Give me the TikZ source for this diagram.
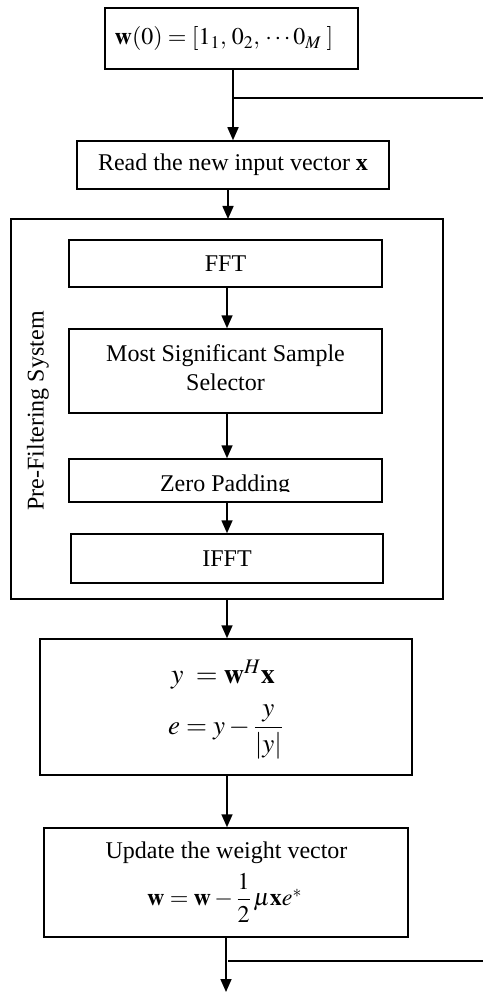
\documentclass[tikz,border=0pt]{standalone}
\usepackage{amsmath}
\usepackage{mathptmx}
\usepackage{fontspec}
\setmainfont{Liberation Serif}
\usetikzlibrary{arrows.meta}
\tikzset{
  base/.style={font=\fontsize{24}{28}\selectfont},
  box/.style={draw, line width=1.5pt, inner sep=0pt, base},
  txt/.style={inner sep=0pt, base},
  conn/.style={line width=1.6pt},
  arr/.style={conn, -{Triangle[length=13pt,width=11pt]}}
}
\begin{document}
\begin{tikzpicture}[x=1pt,y=-1pt]
\useasboundingbox (0,0) rectangle (483,992);
% boxes
\node[box, minimum width=253pt, minimum height=61pt] (init) at (231.5,38.5) {};
\node[txt] (inittext) at (224,38.5) {$\mathbf{w}(0)=[1_1,\,0_2,\,\cdots 0_M\;]$};
\node[box, minimum width=312pt, minimum height=48pt] (read) at (233,165) {Read the new input vector \textbf{x}};
\node[box, minimum width=432pt, minimum height=380pt] (outer) at (227,409) {};
\node[box, minimum width=313pt, minimum height=47pt] (fft) at (225.5,263.5) {FFT};
\node[box, minimum width=313pt, minimum height=84pt] (mss) at (225.5,371) {};
\node[txt, align=center] (msstext) at (225.5,368) {Most Significant Sample\\[1pt]Selector};
\node[box, minimum width=313pt, minimum height=43pt] (zp) at (225.5,480.5) {};
\begin{scope}
\clip (70,460) rectangle (381,491);
\node[txt, anchor=base] (zptext) at (225,491) {Zero Padding};
\end{scope}
\node[box, minimum width=312pt, minimum height=49pt] (ifft) at (227,558.5) {IFFT};
\node[txt, rotate=90] (label) at (38,411) {Pre-Filtering System};
\node[box, minimum width=372pt, minimum height=136pt] (calc) at (226,707) {};
\node[txt, font=\fontsize{28}{30}\selectfont] (eq1) at (223,675) {$y\;=\mathbf{w}^H\mathbf{x}$};
\node[txt, anchor=west, font=\fontsize{27}{30}\selectfont] (eq2) at (168,732) {$e=y-\dfrac{y}{|y|}$};
\node[box, minimum width=364pt, minimum height=109pt] (update) at (226,882.5) {};
\node[txt] (uptext) at (226.5,853) {Update the weight vector};
\node[txt] (eq3) at (224.5,898) {$\mathbf{w}=\mathbf{w}-\dfrac{1}{2}\,\mu\mathbf{x}e^{*}$};
% coordinates
\coordinate (j1) at (233,98);
\coordinate (fb1) at (483,98);
\coordinate (j2) at (228,961);
\coordinate (fb2) at (483,961);
\coordinate (end) at (226,992);
% connectors
\draw[arr] (init.south -| j1) -- (read.north -| j1);
\draw[conn] (j1) -- (fb1);
\draw[arr] (228,189) -- (228,219);
\draw[arr] (fft.south -| outer.north) -- (mss.north -| outer.north);
\draw[arr] (mss.south -| outer.north) -- (zp.north -| outer.north);
\draw[arr] (zp.south -| outer.north) -- (ifft.north -| outer.north);
\draw[arr] (outer.south) -- (calc.north -| outer.south);
\draw[arr] (calc.south -| outer.south) -- (update.north -| outer.south);
\draw[arr] (update.south -| end) -- (end);
\draw[conn] (j2) -- (fb2);
\end{tikzpicture}
\end{document}
